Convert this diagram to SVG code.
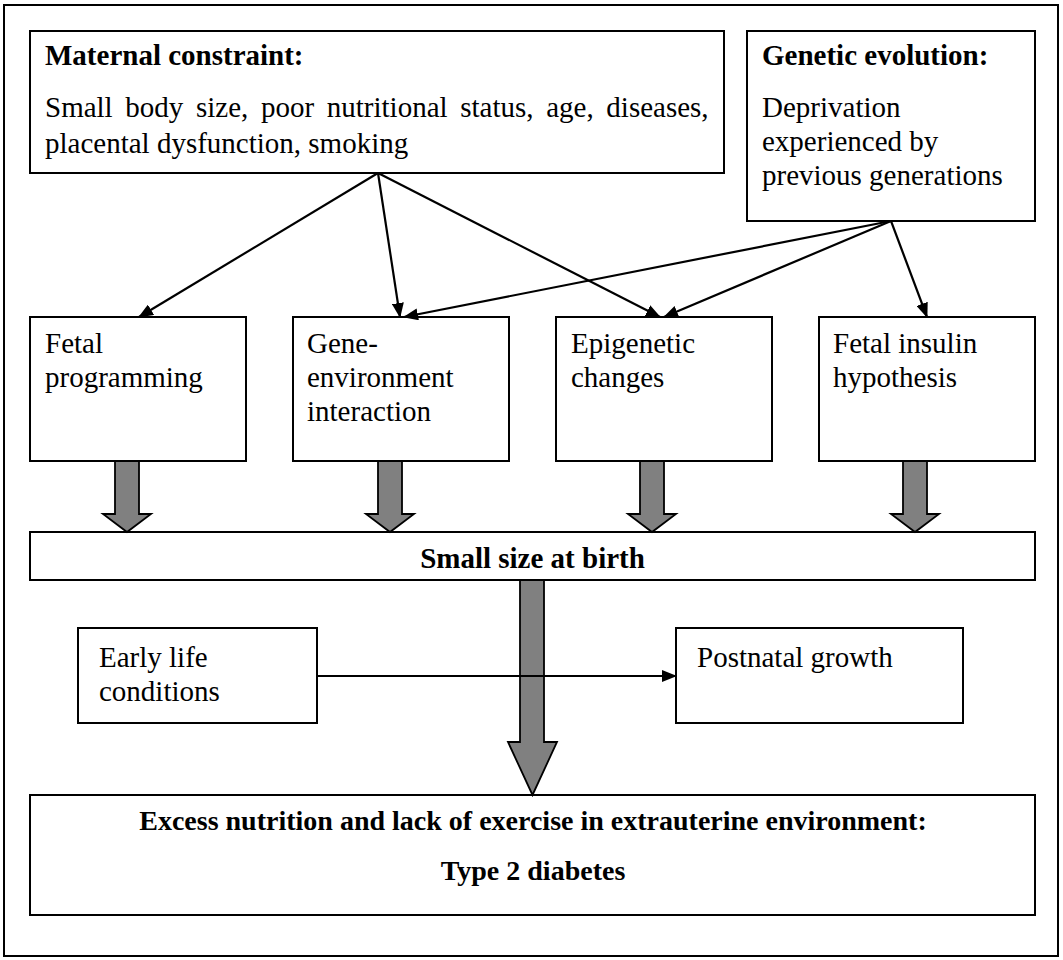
<svg xmlns="http://www.w3.org/2000/svg" width="1063" height="960" viewBox="0 0 1063 960">
<defs>
<style>
.box{fill:#fff;stroke:#000;stroke-width:2}
.t{font-family:"Liberation Serif","Times New Roman",serif;font-size:29px;fill:#000}
.b{font-weight:bold}
.s28{font-size:28px}
.blk{fill:#808080;stroke:#000;stroke-width:1.8;stroke-linejoin:miter}
.ln{fill:none;stroke:#000;stroke-width:2.2}
</style>
<marker id="ah" markerWidth="15" markerHeight="12" refX="14" refY="6" orient="auto" markerUnits="userSpaceOnUse">
<path d="M0,0 L15,6 L0,12 Z" fill="#000"/>
</marker>
</defs>
<rect x="0" y="0" width="1063" height="960" fill="#fff"/>
<rect x="4" y="5" width="1054" height="951" fill="#fff" stroke="#000" stroke-width="2"/>

<g id="maternal">
<rect class="box" x="30" y="31" width="694" height="142"/>
<text class="t b" x="45" y="65">Maternal constraint:</text>
<text class="t" x="45" y="117" word-spacing="5.4">Small body size, poor nutritional status, age, diseases,</text>
<text class="t" x="45" y="153">placental dysfunction, smoking</text>
</g>

<g id="genetic">
<rect class="box" x="747" y="31" width="288" height="190"/>
<text class="t b" x="762" y="65">Genetic evolution:</text>
<text class="t" x="762" y="117">Deprivation</text>
<text class="t" x="762" y="151">experienced by</text>
<text class="t" x="762" y="185">previous generations</text>
</g>

<g id="fetal-programming">
<rect class="box" x="30" y="317" width="216" height="144"/>
<text class="t" x="45" y="353">Fetal</text>
<text class="t" x="45" y="387">programming</text>
</g>

<g id="gene-environment">
<rect class="box" x="293" y="317" width="216" height="144"/>
<text class="t" x="307" y="353">Gene-</text>
<text class="t" x="307" y="387">environment</text>
<text class="t" x="307" y="421">interaction</text>
</g>

<g id="epigenetic">
<rect class="box" x="556" y="317" width="216" height="144"/>
<text class="t" x="571" y="353">Epigenetic</text>
<text class="t" x="571" y="387">changes</text>
</g>

<g id="fetal-insulin">
<rect class="box" x="819" y="317" width="216" height="144"/>
<text class="t" x="833" y="353">Fetal insulin</text>
<text class="t" x="833" y="387">hypothesis</text>
</g>

<g id="small-size">
<rect class="box" x="30" y="532" width="1005" height="48"/>
<text class="t b" x="532.5" y="568" text-anchor="middle">Small size at birth</text>
</g>

<g id="early-life">
<rect class="box" x="78" y="628" width="239" height="95"/>
<text class="t" x="99" y="667">Early life</text>
<text class="t" x="99" y="701">conditions</text>
</g>

<g id="postnatal">
<rect class="box" x="676" y="628" width="287" height="95"/>
<text class="t" x="697" y="667">Postnatal growth</text>
</g>

<g id="outcome">
<rect class="box" x="30" y="795" width="1005" height="120"/>
<text class="t b s28" x="533" y="830" text-anchor="middle">Excess nutrition and lack of exercise in extrauterine environment:</text>
<text class="t b s28" x="533" y="880" text-anchor="middle">Type 2 diabetes</text>
</g>

<g id="connectors">
<line class="ln" x1="378" y1="173" x2="139" y2="317" marker-end="url(#ah)"/>
<line class="ln" x1="378" y1="173" x2="400" y2="317" marker-end="url(#ah)"/>
<line class="ln" x1="378" y1="173" x2="660" y2="317" marker-end="url(#ah)"/>
<line class="ln" x1="891" y1="221" x2="404" y2="317" marker-end="url(#ah)"/>
<line class="ln" x1="891" y1="221" x2="664" y2="317" marker-end="url(#ah)"/>
<line class="ln" x1="891" y1="221" x2="927" y2="317" marker-end="url(#ah)"/>
<polygon class="blk" points="115,461 139,461 139,514 151,514 127,532 103,514 115,514"/>
<polygon class="blk" points="378,461 402,461 402,514 414,514 390,532 366,514 378,514"/>
<polygon class="blk" points="640,461 664,461 664,514 676,514 652,532 628,514 640,514"/>
<polygon class="blk" points="903,461 927,461 927,514 939,514 915,532 891,514 903,514"/>
<polygon class="blk" points="520,580 544,580 544,742 557,742 532.5,795 508,742 520,742"/>
<line class="ln" x1="317" y1="676" x2="676" y2="676" marker-end="url(#ah)"/>
</g>
</svg>
